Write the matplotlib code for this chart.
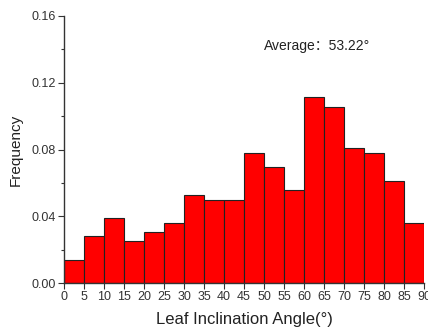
import matplotlib
matplotlib.use("Agg")
import matplotlib.pyplot as plt
from matplotlib.ticker import MultipleLocator

# bin edges (degrees) and frequency per 5-degree bin
bin_left = [0, 5, 10, 15, 20, 25, 30, 35, 40, 45, 50, 55, 60, 65, 70, 75, 80, 85]
frequency = [0.0138, 0.0280, 0.0390, 0.0250, 0.0306, 0.0362, 0.0530, 0.0500, 0.0500,
             0.0778, 0.0694, 0.0557, 0.1112, 0.1055, 0.0806, 0.0778, 0.0611, 0.0362]
x_ticks = list(range(0, 95, 5))
y_ticks = [0.00, 0.04, 0.08, 0.12, 0.16]
avg_text = "Average\uff1a53.22\u00b0"

plt.rcParams['font.family'] = ['Liberation Sans', 'Noto Sans CJK SC', 'DejaVu Sans']

fig = plt.figure(figsize=(4.28, 3.31), dpi=100)
ax = fig.add_axes([64 / 428, 1 - 283 / 331, 360 / 428, 267 / 331])

ax.bar(bin_left, frequency, width=5, align='edge', color='#ff0000',
       edgecolor='#222222', linewidth=0.8)

ax.set_xlim(0, 90)
ax.set_ylim(0, 0.16)
ax.set_xticks(x_ticks)
ax.set_yticks(y_ticks)
ax.set_yticklabels([f"{v:.2f}" for v in y_ticks])
ax.yaxis.set_minor_locator(MultipleLocator(0.02))

for side in ['top', 'right']:
    ax.spines[side].set_visible(False)
for side in ['left', 'bottom']:
    ax.spines[side].set_color('#333333')
    ax.spines[side].set_linewidth(1.0)

ax.tick_params(axis='both', which='major', direction='out', length=4, width=0.8,
               labelsize=9, colors='#333333', pad=2)
ax.tick_params(axis='y', which='minor', direction='out', length=2.5, width=0.8,
               colors='#333333')

ax.set_xlabel("Leaf Inclination Angle(\u00b0)", fontsize=12, color='#222222', labelpad=6)
ax.set_ylabel("Frequency", fontsize=11, color='#222222', labelpad=6)

ax.text(0.555, 0.888, avg_text, transform=ax.transAxes, fontsize=10,
        color='#222222', ha='left', va='center')

plt.savefig("out.png", dpi=100)
